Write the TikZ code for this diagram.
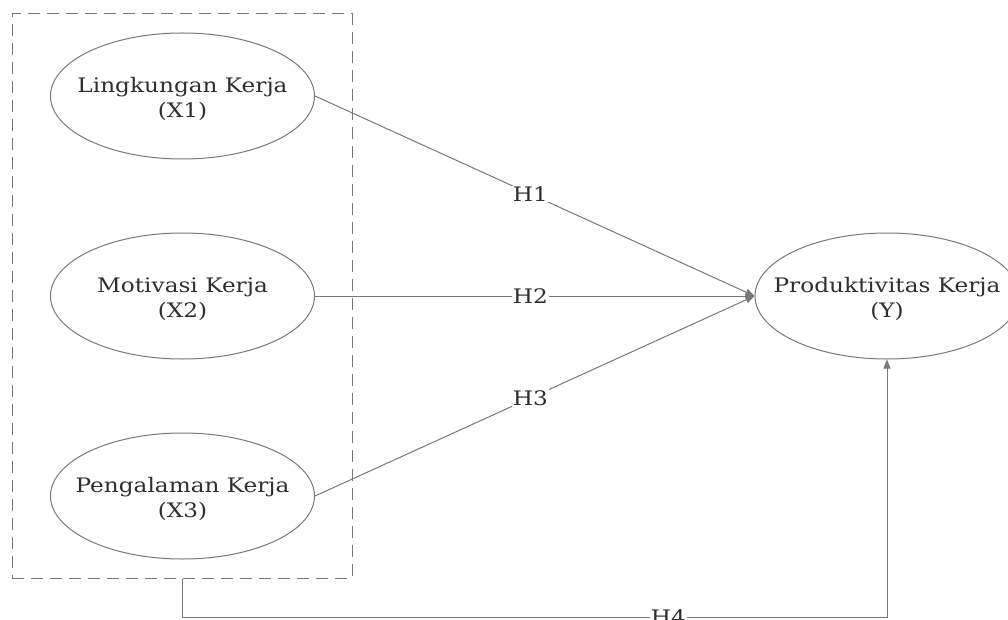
\documentclass[tikz,border=0pt]{standalone}
\usepackage{fontspec}
\setmainfont{DejaVu Serif}[FakeStretch=1.16]
\usetikzlibrary{shapes.geometric,arrows.meta}
\definecolor{linegray}{HTML}{787878}
\definecolor{txtgray}{HTML}{2E2E2E}
\begin{document}
\begin{tikzpicture}[x=1pt,y=-1pt,
 ell/.style={ellipse,draw=linegray,line width=1pt,minimum width=264pt,minimum height=126pt,inner sep=0pt},
 lbl/.style={text=txtgray,font=\fontsize{20}{25}\selectfont,align=center,inner sep=0pt,yshift=-3pt},
 conn/.style={draw=linegray,line width=1pt},
 arr/.style={conn,-{Triangle[length=9pt,width=7pt]}},
 hl/.style={fill=white,text=txtgray,font=\fontsize{20}{25}\selectfont,inner sep=1pt},
 grp/.style={draw=linegray,line width=1pt,dash pattern=on 12pt off 7pt}]
\useasboundingbox (0,0) rectangle (1008,620);
\node[grp,minimum width=340pt,minimum height=564pt,inner sep=0pt] (grp) at (182,296) {};
\node[ell] (x1) at (182.5,96) {};
\node[lbl] (x1t) at (x1) {Lingkungan Kerja\\(X1)};
\node[ell] (x2) at (182.5,296) {};
\node[lbl] (x2t) at (x2) {Motivasi Kerja\\(X2)};
\node[ell] (x3) at (182.5,496) {};
\node[lbl] (x3t) at (x3) {Pengalaman Kerja\\(X3)};
\node[ell] (y) at (887,296) {};
\node[lbl] (yt) at (y) {Produktivitas Kerja\\(Y)};
\coordinate (c1) at (182,617);
\coordinate (c2) at (887,617);
\draw[arr] (x1.east) -- node[hl,pos=0.49] (h1) {H1} (y.west);
\draw[arr] (x2.east) -- node[hl,pos=0.49] (h2) {H2} (y.west);
\draw[arr] (x3.east) -- node[hl,pos=0.49] (h3) {H3} (y.west);
\draw[arr] (grp.south) -- (c1) -- node[hl,pos=0.69] (h4) {H4} (c2) -- (y.south);
\end{tikzpicture}
\end{document}
